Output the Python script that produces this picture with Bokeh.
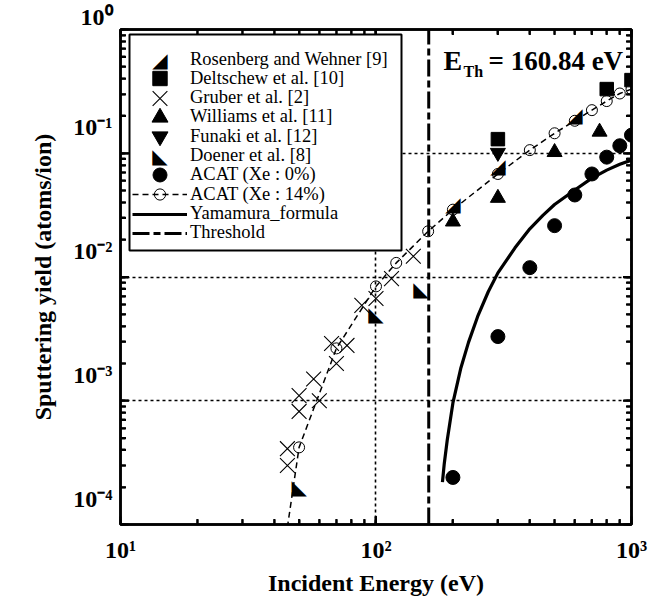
import math
from bokeh.plotting import figure
from bokeh.models import (LogAxis, FixedTicker, LogTicker, Legend, LegendItem, Label,
                          Range1d, CustomJSTickFormatter, BoxAnnotation)
from bokeh.core.properties import value
from bokeh.embed import file_html
from bokeh.resources import INLINE

# ---------------- data ----------------
rosen_x = [200, 300, 600]
rosen_y = [0.039, 0.079, 0.205]

delt_x = [300, 800, 1000]
delt_y = [0.13, 0.33, 0.39]

gruber_x = [45, 45, 50, 50, 57, 60, 67, 70, 77, 88, 100, 115, 140]
gruber_y = [4.1e-4, 3.0e-4, 1.1e-3, 8.2e-4, 1.5e-3, 1.0e-3, 2.9e-3, 2.0e-3,
            2.8e-3, 5.9e-3, 6.7e-3, 9.7e-3, 1.47e-2]

will_x = [200, 300, 500, 750]
will_y = [0.028, 0.0435, 0.102, 0.149]

fun_x = [300]
fun_y = [0.101]

doen_x = [50, 100, 150]
doen_y = [2.0e-4, 5.0e-3, 8.0e-3]

acat0_x = [200, 300, 400, 500, 600, 700, 800, 900, 1000]
acat0_y = [2.4e-4, 3.3e-3, 1.19e-2, 2.6e-2, 4.6e-2, 6.8e-2, 9.3e-2, 0.115, 0.14]

acat14_x = [40, 50, 70, 100, 120, 160, 200, 300, 400, 500, 600, 700, 800, 900, 1000]
acat14_y = [1.8e-5, 4.2e-4, 2.65e-3, 8.4e-3, 1.3e-2, 2.34e-2, 3.5e-2, 6.8e-2,
            0.106, 0.145, 0.183, 0.223, 0.264, 0.304, 0.33]

yam_x = [182, 185, 190, 200, 215, 230, 250, 275, 300, 350, 400, 450, 500,
         600, 700, 800, 900, 1000]
yam_y = [2.2e-4, 3.1e-4, 4.8e-4, 9.6e-4, 1.85e-3, 2.95e-3, 4.8e-3, 7.6e-3,
         1.08e-2, 1.72e-2, 2.45e-2, 3.15e-2, 3.85e-2, 5.05e-2, 6.3e-2,
         7.3e-2, 8.15e-2, 8.8e-2]

threshold = 160.84

x_min, x_max = 10, 1000
y_min, y_max = 1e-4, 1

xtick_vals = [10, 100, 1000]
xtick_labels = ["10\u00b9", "10\u00b2", "10\u00b3"]
ytick_vals = [1e-4, 1e-3, 1e-2, 1e-1, 1]
ytick_labels = ["10\u207b\u2074", "10\u207b\u00b3", "10\u207b\u00b2", "10\u207b\u00b9", "10\u2070"]

legend_labels = ["Rosenberg and Wehner [9]", "Deltschew et al. [10]", "Gruber et al. [2]",
                 "Williams et al. [11]", "Funaki et al. [12]", "Doener et al. [8]",
                 "ACAT (Xe : 0%)", "ACAT (Xe : 14%)", "Yamamura_formula", "Threshold"]

# ---------------- figure ----------------
SERIF = "Liberation Serif"
FRAME_LEFT, FRAME_BOTTOM = 120, 526   # canvas pixels of the frame corner

p = figure(width=650, height=598, x_axis_type="log", y_axis_type="log",
           x_range=Range1d(x_min, x_max * 1.00001), y_range=Range1d(y_min, y_max),
           output_backend="svg", toolbar_location=None,
           min_border_left=120, min_border_right=19, min_border_top=29,
           min_border_bottom=72)
p.background_fill_color = "white"
p.border_fill_color = "white"
p.outline_line_color = "black"
p.outline_line_width = 2.5

BLANK = CustomJSTickFormatter(code="return ''")


def label_formatter(vals, labs, pad):
    return CustomJSTickFormatter(args=dict(vals=vals, labs=labs, pad=pad), code="""
        for (let i = 0; i < vals.length; i++) {
            if (Math.abs(Math.log10(tick) - Math.log10(vals[i])) < 1e-6) {
                return labs[i] + pad[i];
            }
        }
        return '';
    """)


def style_axis(ax):
    ax.ticker = LogTicker(num_minor_ticks=10)
    ax.major_tick_in = 8
    ax.major_tick_out = 0
    ax.minor_tick_in = 5
    ax.minor_tick_out = 0
    ax.axis_line_width = 2.5
    ax.major_tick_line_width = 2
    ax.minor_tick_line_width = 2
    ax.minor_tick_line_color = "black"
    ax.major_label_text_font = SERIF
    ax.major_label_text_font_style = "bold"
    ax.major_label_text_font_size = "24px"
    ax.major_label_text_color = "black"
    ax.axis_label_text_font = SERIF
    ax.axis_label_text_font_style = "bold"
    ax.axis_label_text_font_size = "24px"
    ax.axis_label_text_color = "black"


xa = p.xaxis[0]
style_axis(xa)
xa.formatter = label_formatter(xtick_vals, xtick_labels, [""] * 3)
xa.major_label_standoff = 12
xa.axis_label = "Incident Energy (eV)"
xa.axis_label_standoff = 4

ya = p.yaxis[0]
style_axis(ya)
# trailing blank lines lift each label above its tick, as in the reference
ya.formatter = label_formatter(ytick_vals, ytick_labels, ["\n\n", "\n\n", "\n\n", "\n\n", "\n"])
ya.major_label_text_line_height = 1.0
ya.major_label_standoff = 8
ya.axis_label = "Sputtering yield (atoms/ion)"
ya.axis_label_standoff = 14

top_ax = LogAxis()
style_axis(top_ax)
top_ax.formatter = BLANK
p.add_layout(top_ax, "above")
right_ax = LogAxis()
style_axis(right_ax)
right_ax.formatter = BLANK
p.add_layout(right_ax, "right")

# grid: dotted lines at the decades
p.xgrid.ticker = FixedTicker(ticks=xtick_vals)
p.ygrid.ticker = FixedTicker(ticks=ytick_vals)
p.grid.grid_line_color = "black"
p.grid.grid_line_dash = "3 3"
p.grid.grid_line_width = 1.6


# inward tick marks on all four sides, drawn as dash markers centred on the frame edge
# (the half outside the frame is clipped, leaving an inward tick)
def decade_minors(lo_exp, hi_exp):
    out = []
    for e in range(lo_exp, hi_exp):
        for m in range(2, 10):
            out.append(m * 10.0 ** e)
    return out


x_minor = decade_minors(1, 3)
y_minor = decade_minors(-4, 0)
x_major_in = xtick_vals[1:-1]
y_major_in = ytick_vals[1:-1]
for ticks, sz in ((x_minor, 11), (x_major_in, 17)):
    p.scatter(ticks + ticks, [y_min] * len(ticks) + [y_max] * len(ticks),
              marker="dash", angle=math.pi / 2, size=sz,
              line_color="black", line_width=2)
for ticks, sz in ((y_minor, 11), (y_major_in, 17)):
    p.scatter([x_min] * len(ticks) + [x_max] * len(ticks), ticks + ticks,
              marker="dash", size=sz, line_color="black", line_width=2)

# ---------------- glyphs ----------------
r_yam = p.line(yam_x, yam_y, line_color="black", line_width=3.2)
r_thr = p.line([threshold, threshold], [y_min, y_max], line_color="black",
               line_width=3, line_dash="17 4 7 4")
r_a14_line = p.line(acat14_x, acat14_y, line_color="black", line_width=1.5,
                    line_dash="6 4")
r_a14_pts = p.scatter(acat14_x, acat14_y, marker="circle", size=11,
                      fill_color=None, line_color="black", line_width=1)
r_gru = p.scatter(gruber_x, gruber_y, marker="x", size=21, line_color="black",
                  line_width=1.1)
r_a0 = p.scatter(acat0_x, acat0_y, marker="circle", size=14, fill_color="black",
                 line_color="black")
r_del = p.scatter(delt_x, delt_y, marker="square", size=13.5, fill_color="black",
                  line_color="black")
r_wil = p.scatter(will_x, will_y, marker="triangle", size=15, fill_color="black",
                  line_color="black")
r_fun = p.scatter(fun_x, fun_y, marker="inverted_triangle", size=15,
                  fill_color="black", line_color="black")
TRI_FONT = value("DejaVu Sans")
TRI_SIZE = "20px"
r_ros = p.text(rosen_x, rosen_y, text=["\u25E2"] * len(rosen_x),
               text_font=TRI_FONT, text_font_size=TRI_SIZE,
               text_align="center", text_baseline="middle", text_color="black")
r_doe = p.text(doen_x, doen_y, text=["\u25E3"] * len(doen_x),
               text_font=TRI_FONT, text_font_size=TRI_SIZE,
               text_align="center", text_baseline="middle", text_color="black")

# ---------------- legend (box + one Legend per row) ----------------
box_l, box_r, box_t, box_b = 129, 401, 36, 252      # canvas pixels
p.add_layout(BoxAnnotation(left=box_l - FRAME_LEFT, right=box_r - FRAME_LEFT,
                           top=FRAME_BOTTOM - box_t, bottom=FRAME_BOTTOM - box_b,
                           left_units="screen", right_units="screen",
                           top_units="screen", bottom_units="screen",
                           fill_color="white", fill_alpha=1,
                           line_color="black", line_width=2, line_alpha=1))

renderers = [[r_ros], [r_del], [r_gru], [r_wil], [r_fun], [r_doe], [r_a0],
             [r_a14_line, r_a14_pts], [r_yam], [r_thr]]
# glyph box heights chosen so that Bokeh's legend marker (0.4 x box) matches the key size
glyph_h = [36, 36, 52, 40, 40, 36, 35, 28, 30, 30]
row0, pitch = 61, 19.33
glyph_left, glyph_w = 132, 55
for i, (lab, rs) in enumerate(zip(legend_labels, renderers)):
    cy = row0 + pitch * i
    g = glyph_h[i]
    leg = Legend(items=[LegendItem(label=lab, renderers=rs)],
                 location=(glyph_left - FRAME_LEFT, FRAME_BOTTOM - (cy + g / 2)),
                 padding=0, margin=0, spacing=0, glyph_height=g, label_height=g,
                 glyph_width=glyph_w, label_standoff=3,
                 border_line_color=None, background_fill_alpha=0,
                 label_text_font=SERIF, label_text_font_size="18.5px",
                 label_text_color="black", label_text_baseline="middle")
    p.add_layout(leg)

# keys for the two right-triangle series (text glyphs have no legend key)
for i, ch in [(0, "\u25E2"), (5, "\u25E3")]:
    cy = row0 + pitch * i
    p.add_layout(Label(x=glyph_left + glyph_w / 2 - FRAME_LEFT, y=FRAME_BOTTOM - cy,
                       x_units="screen", y_units="screen", text=ch,
                       text_align="center", text_baseline="middle",
                       text_font="DejaVu Sans", text_font_size=TRI_SIZE,
                       text_color="black"))

# ---------------- E_Th annotation ----------------
p.add_layout(Label(x=323, y=464, x_units="screen", y_units="screen", text="E",
                   text_baseline="alphabetic", text_font=SERIF, text_font_style="bold",
                   text_font_size="28px", text_color="black"))
p.add_layout(Label(x=343, y=453, x_units="screen", y_units="screen", text="Th",
                   text_baseline="alphabetic", text_font=SERIF, text_font_style="bold",
                   text_font_size="16px", text_color="black"))
p.add_layout(Label(x=368, y=464, x_units="screen", y_units="screen", text="= 160.84 eV",
                   text_baseline="alphabetic", text_font=SERIF, text_font_style="bold",
                   text_font_size="27px", text_color="black"))

open("out.html", "w").write(file_html(p, INLINE))
